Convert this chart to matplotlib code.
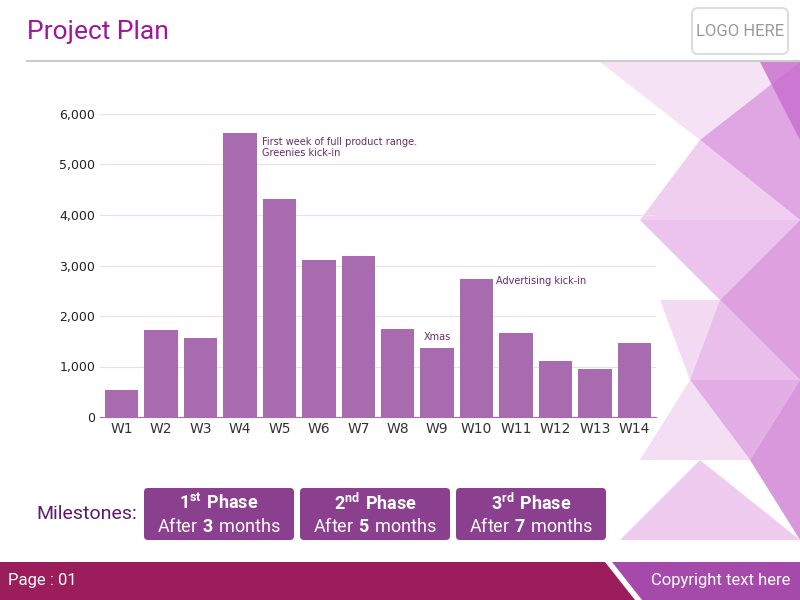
import matplotlib
matplotlib.use("Agg")
import matplotlib.pyplot as plt
from matplotlib.patches import Polygon, FancyBboxPatch

weeks = ["W1","W2","W3","W4","W5","W6","W7","W8","W9","W10","W11","W12","W13","W14"]
values = [540, 1720, 1560, 5620, 4320, 3110, 3190, 1740, 1370, 2730, 1660, 1110, 950, 1470]
yticks = [0, 1000, 2000, 3000, 4000, 5000, 6000]
phases = [("1", "st", "3"), ("2", "nd", "5"), ("3", "rd", "7")]

plt.rcParams["mathtext.fontset"] = "custom"
plt.rcParams["mathtext.rm"] = "Roboto"
plt.rcParams["mathtext.bf"] = "Roboto:bold"
F = "Roboto"

fig = plt.figure(figsize=(8, 6), dpi=100)
bg = fig.add_axes([0, 0, 1, 1]); bg.set_xlim(0, 800); bg.set_ylim(600, 0); bg.axis("off")

tris = [
    ([(600,62),(800,62),(700,140)], "#f3dcf3"),
    ([(700,140),(800,62),(800,220)], "#d98fdc"),
    ([(700,140),(800,220),(640,220)], "#ecc2ed"),
    ([(640,220),(800,220),(720,300)], "#e8b4ea"),
    ([(720,300),(800,220),(800,380)], "#d68ad9"),
    ([(660,300),(720,300),(690,380)], "#f0d2f1"),
    ([(690,380),(800,380),(720,300)], "#e4aee6"),
    ([(690,380),(800,380),(750,460)], "#dc9adf"),
    ([(640,460),(750,460),(690,380)], "#f2d6f2"),
    ([(750,460),(800,380),(800,540)], "#cf7fd3"),
    ([(620,540),(800,540),(700,460)], "#ebc0ec"),
    ([(760,62),(800,62),(800,140)], "#c86ccd"),
]
for pts, c in tris:
    bg.add_patch(Polygon(pts, closed=True, color=c, alpha=0.8, lw=0))

bg.text(27, 32, "Project Plan", color="#a0169a", fontsize=19, va="center", fontfamily=F)
bg.plot([27, 800], [61, 61], color="#cccccc", lw=1.5)
bg.add_patch(FancyBboxPatch((692, 8), 96, 46, boxstyle="round,pad=0,rounding_size=6", fc="white", ec="#dddddd", lw=1.5))
bg.text(740, 31, "LOGO HERE", color="#999999", fontsize=12, ha="center", va="center", fontfamily=F)

bg.add_patch(Polygon([(0,562),(605,562),(635,600),(0,600)], color="#9b1d5b", lw=0))
bg.add_patch(Polygon([(612,562),(800,562),(800,600),(642,600)], color="#a54aab", lw=0))
bg.text(8, 581, "Page : 01", color="white", fontsize=12, va="center", fontfamily=F)
bg.text(790, 581, "Copyright text here", color="white", fontsize=12, va="center", ha="right", fontfamily=F)

bg.text(36, 514, "Milestones:", color="#5a1a6a", fontsize=14, va="center", fontfamily=F)
for i, (n, sup, m) in enumerate(phases):
    x0 = 144 + i * 156
    bg.add_patch(FancyBboxPatch((x0, 488), 150, 52, boxstyle="round,pad=0,rounding_size=4", fc="#8b3f8f", ec="none"))
    cx = x0 + 75
    bg.text(cx, 503, rf"$\mathbf{{{n}^{{{sup}}}\ Phase}}$", color="white", fontsize=13, ha="center", va="center")
    bg.text(cx, 526, rf"$\mathrm{{After}}\ \mathbf{{{m}}}\ \mathrm{{months}}$", color="white", fontsize=13, ha="center", va="center")

ax = fig.add_axes([0.125, 0.305, 0.695, 0.505])
ax.patch.set_alpha(0)
x = range(len(weeks))
ax.bar(x, values, width=0.85, color="#a86bb0", zorder=3)
ax.set_xlim(-0.55, len(weeks) - 0.45)
ax.set_ylim(0, 6000)
ax.set_yticks(yticks)
ax.set_yticklabels([f"{v:,}" for v in yticks], fontsize=9, color="#222222")
ax.set_xticks(list(x))
ax.set_xticklabels(weeks, fontsize=10, color="#333333")
ax.yaxis.grid(True, color="#eedcee", lw=0.8, zorder=0)
for s in ["top", "right", "left"]:
    ax.spines[s].set_visible(False)
ax.spines["bottom"].set_color("#a86bb0")
ax.tick_params(length=0)
ax.text(3.55, 5550, "First week of full product range.\nGreenies kick-in", fontsize=7, color="#6a2a6a", va="top")
ax.text(8, 1520, "Xmas", fontsize=7, color="#6a2a6a", ha="center")
ax.text(9.5, 2640, "Advertising kick-in", fontsize=7, color="#6a2a6a")

fig.savefig("out.png", dpi=100)
